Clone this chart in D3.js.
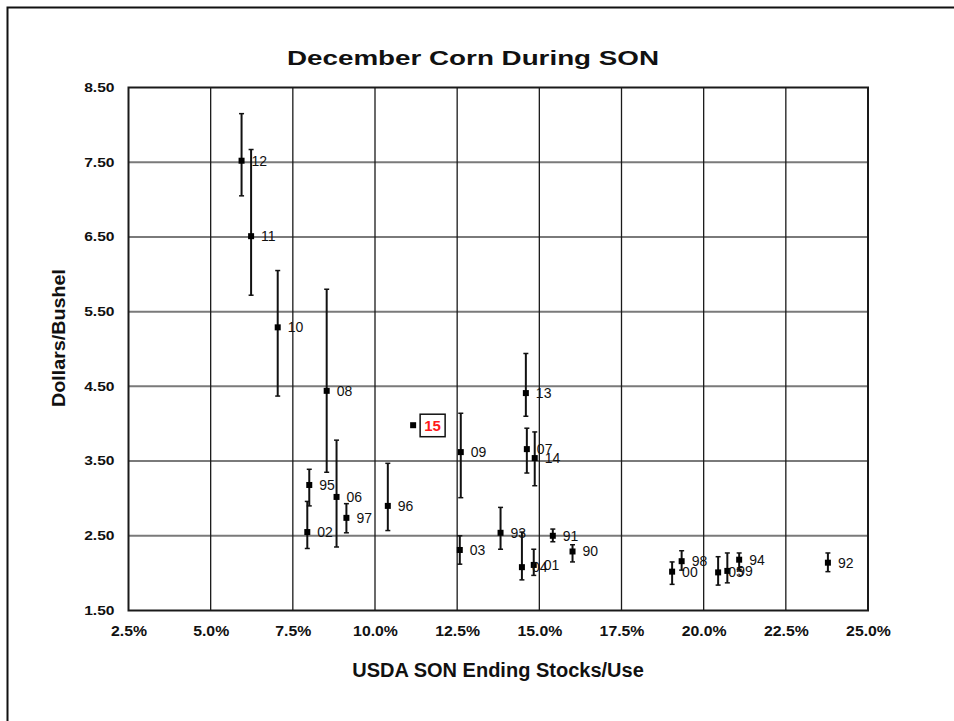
<!DOCTYPE html>
<html>
<head>
<meta charset="utf-8">
<script src="https://cdn.jsdelivr.net/npm/d3@7/dist/d3.min.js"></script>
<style>
  html, body { margin: 0; padding: 0; background: #fff; }
  svg { display: block; font-family: "Liberation Sans", Arial, sans-serif; }
</style>
</head>
<body>
<svg id="chart" width="954" height="721"></svg>
<script>
// ---- Data ----
const years      = ["90","91","92","93","94","95","96","97","98","99","00","01","02","03","04","05","06","07","08","09","10","11","12","13","14","15"];
const stocksUse  = [16.01,15.41,23.78,13.82,21.08,8.00,10.39,9.13,19.33,20.72,19.04,14.83,7.94,12.58,14.47,20.44,8.83,14.62,8.53,12.61,7.04,6.23,5.94,14.59,14.86,11.16];
const price      = [2.29,2.50,2.14,2.54,2.18,3.18,2.90,2.74,2.16,2.03,2.02,2.11,2.55,2.31,2.08,2.01,3.02,3.66,4.44,3.62,5.29,6.51,7.52,4.41,3.54,3.98];
const priceHigh  = [2.38,2.59,2.27,2.88,2.27,3.39,3.47,2.93,2.30,2.27,2.15,2.32,2.96,2.50,2.55,2.22,3.78,3.94,5.80,4.14,6.05,7.67,8.15,4.94,3.89,null];
const priceLow   = [2.15,2.42,2.02,2.32,2.05,2.90,2.57,2.54,2.04,1.87,1.85,1.97,2.33,2.12,1.91,1.84,2.35,3.34,3.35,3.01,4.37,5.72,7.05,4.10,3.17,null];
const highlightYear = "15";
const xTicks = [2.5,5.0,7.5,10.0,12.5,15.0,17.5,20.0,22.5,25.0];
const yTicks = [1.5,2.5,3.5,4.5,5.5,6.5,7.5,8.5];
const titleText = "December Corn During SON";
const xTitle = "USDA SON Ending Stocks/Use";
const yTitle = "Dollars/Bushel";

const points = years.map((yr, i) => ({yr, x: stocksUse[i], y: price[i], hi: priceHigh[i], lo: priceLow[i]}));

// ---- Layout ----
const svg = d3.select("#chart");
const L = 128.5, R = 868, T = 87.5, B = 610.5;
const x = d3.scaleLinear().domain([2.5, 25.0]).range([L, R]);
const y = d3.scaleLinear().domain([1.5, 8.5]).range([B, T]);

function stretch(sel, f) {
  sel.each(function() {
    const w = this.getComputedTextLength();
    d3.select(this).attr("textLength", w * f).attr("lengthAdjust", "spacingAndGlyphs");
  });
}

// outer frame (top and left edges visible)
svg.append("path")
  .attr("d", "M7.5,960 L7.5,7.5 L960,7.5")
  .attr("fill", "none").attr("stroke", "#111").attr("stroke-width", 2);

// gridlines
svg.append("g").selectAll("line").data(yTicks.slice(1, -1)).join("line")
  .attr("x1", L).attr("x2", R).attr("y1", d => y(d)).attr("y2", d => y(d))
  .attr("stroke", "#7a7a7a").attr("stroke-width", 2);
svg.append("g").selectAll("line").data(xTicks.slice(1, -1)).join("line")
  .attr("y1", T).attr("y2", B).attr("x1", d => x(d)).attr("x2", d => x(d))
  .attr("stroke", "#1a1a1a").attr("stroke-width", 1.3);

// plot border
svg.append("rect").attr("x", L).attr("y", T).attr("width", R - L).attr("height", B - T)
  .attr("fill", "none").attr("stroke", "#1a1a1a").attr("stroke-width", 2);

// axes
const yAxis = svg.append("g").attr("transform", `translate(${L},0)`)
  .call(d3.axisLeft(y).tickValues(yTicks).tickFormat(d3.format(".2f")).tickSize(0).tickPadding(14));
yAxis.select(".domain").remove();
yAxis.selectAll("text").attr("font-size", 12).attr("font-weight", "bold").attr("fill", "#111")
  .attr("font-family", "Liberation Sans, Arial, sans-serif");
stretch(yAxis.selectAll("text"), 1.3);

const xAxis = svg.append("g").attr("transform", `translate(0,${B})`)
  .call(d3.axisBottom(x).tickValues(xTicks).tickFormat(d => d.toFixed(1) + "%").tickSize(0));
xAxis.select(".domain").remove();
xAxis.selectAll("text").attr("font-size", 14).attr("font-weight", "bold").attr("fill", "#111")
  .attr("font-family", "Liberation Sans, Arial, sans-serif")
  .attr("y", 25.5).attr("dy", null);
stretch(xAxis.selectAll("text"), 1.13);

// titles
const t = svg.append("text").attr("x", 473).attr("y", 65).attr("text-anchor", "middle")
  .attr("font-size", 21).attr("font-weight", "bold").attr("fill", "#111").text(titleText);
t.attr("textLength", 372).attr("lengthAdjust", "spacingAndGlyphs");

svg.append("text").attr("x", 498).attr("y", 677).attr("text-anchor", "middle")
  .attr("font-size", 20).attr("font-weight", "bold").attr("fill", "#111").text(xTitle);

svg.append("text").attr("transform", "translate(65,338) rotate(-90)").attr("text-anchor", "middle")
  .attr("font-size", 18).attr("font-weight", "bold").attr("fill", "#111")
  .attr("textLength", 138).attr("lengthAdjust", "spacingAndGlyphs").text(yTitle);

// error bars
const eb = svg.append("g").selectAll("g").data(points.filter(d => d.hi != null)).join("g");
eb.append("line").attr("x1", d => x(d.x)).attr("x2", d => x(d.x))
  .attr("y1", d => y(d.hi)).attr("y2", d => y(d.lo)).attr("stroke", "#111").attr("stroke-width", 2);
eb.append("line").attr("x1", d => x(d.x) - 2.5).attr("x2", d => x(d.x) + 2.5)
  .attr("y1", d => y(d.hi)).attr("y2", d => y(d.hi)).attr("stroke", "#111").attr("stroke-width", 1.5);
eb.append("line").attr("x1", d => x(d.x) - 2.5).attr("x2", d => x(d.x) + 2.5)
  .attr("y1", d => y(d.lo)).attr("y2", d => y(d.lo)).attr("stroke", "#111").attr("stroke-width", 1.5);

// markers
svg.append("g").selectAll("rect").data(points).join("rect")
  .attr("x", d => x(d.x) - 3).attr("y", d => y(d.y) - 3).attr("width", 6).attr("height", 6)
  .attr("fill", "#000");

// labels
svg.append("g").selectAll("text").data(points.filter(d => d.yr !== highlightYear)).join("text")
  .attr("x", d => x(d.x) + 10).attr("y", d => y(d.y) + 5)
  .attr("font-size", 14).attr("fill", "#111").text(d => d.yr);

const hp = points.find(d => d.yr === highlightYear);
svg.append("rect").attr("x", x(hp.x) + 7).attr("y", y(hp.y) - 11).attr("width", 25).attr("height", 22.5)
  .attr("fill", "#fff").attr("stroke", "#111").attr("stroke-width", 1.5);
svg.append("text").attr("x", x(hp.x) + 19.5).attr("y", y(hp.y) + 5.5).attr("text-anchor", "middle")
  .attr("font-size", 15).attr("font-weight", "bold").attr("fill", "#ff1a1a").text(hp.yr);
</script>
</body>
</html>
